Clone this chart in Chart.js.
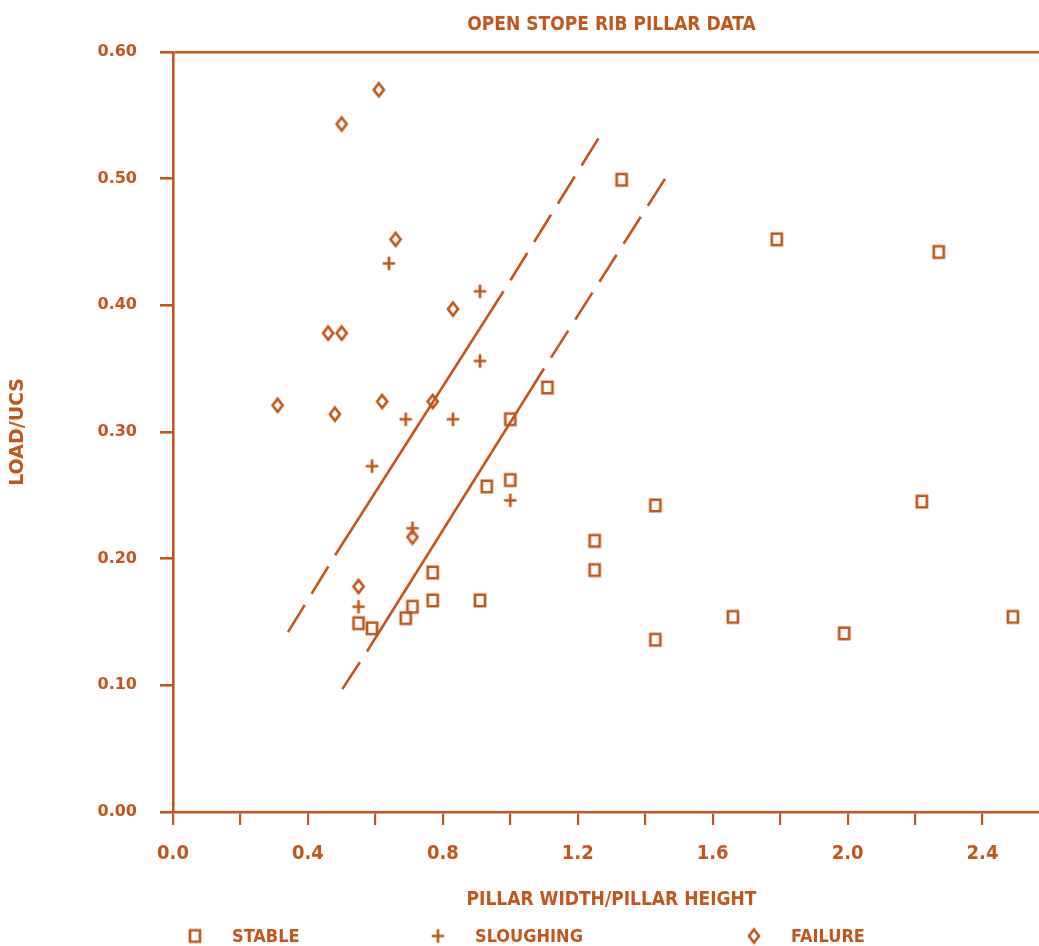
<!DOCTYPE html>
<html>
<head>
<meta charset="utf-8">
<title>Open stope rib pillar data</title>
<script src="https://cdn.jsdelivr.net/npm/chart.js@4.4.1/dist/chart.umd.min.js"></script>
<style>
  html, body { margin: 0; padding: 0; background: #fff; overflow: hidden; }
  #wrap { width: 1039px; height: 946px; overflow: hidden; }
</style>
</head>
<body>
<div id="wrap"><canvas id="chart" width="1067" height="946"></canvas></div>
<script>
const INK = '#c1571b';
const NARROW = "'Liberation Sans Narrow', 'DejaVu Sans Condensed', sans-serif";
const ROUND = "'DejaVu Sans', Verdana, sans-serif";

// pillar width/height ratio and load/UCS for each case
const stableRatio = [0.55, 0.59, 0.69, 0.71, 0.77, 0.77, 0.91, 0.93, 1.00, 1.00, 1.11,
                     1.25, 1.25, 1.33, 1.43, 1.43, 1.66, 1.79, 1.99, 2.22, 2.27, 2.49];
const stableLoad  = [0.149, 0.145, 0.153, 0.162, 0.189, 0.167, 0.167, 0.257, 0.262, 0.310, 0.335,
                     0.214, 0.191, 0.499, 0.242, 0.136, 0.154, 0.452, 0.141, 0.245, 0.442, 0.154];

const sloughRatio = [0.55, 0.59, 0.64, 0.69, 0.71, 0.83, 0.91, 0.91, 1.00];
const sloughLoad  = [0.162, 0.273, 0.433, 0.310, 0.224, 0.310, 0.411, 0.356, 0.246];

const failRatio = [0.31, 0.46, 0.48, 0.50, 0.50, 0.55, 0.61, 0.62, 0.66, 0.71, 0.77, 0.83];
const failLoad  = [0.321, 0.378, 0.314, 0.378, 0.543, 0.178, 0.570, 0.324, 0.452, 0.217, 0.324, 0.397];

// hand-drawn stability bounds: dashed end, solid middle, dashed end
const upperBoundRatio = [0.341, 0.484, 0.980, 1.262];
const upperBoundLoad  = [0.142, 0.204, 0.411, 0.532];
const lowerBoundRatio = [0.502, 0.583, 1.100, 1.476];
const lowerBoundLoad  = [0.097, 0.130, 0.350, 0.507];

const legendLabels = ['STABLE', 'SLOUGHING', 'FAILURE'];
const xTickStep = 0.2;

function toPoints(xs, ys) {
  return xs.map((x, i) => ({ x, y: ys[i] }));
}

// small stroked marker images, reused in the legend row
function marker(kind, w, h) {
  const lw = 2.7;
  const c = document.createElement('canvas');
  c.width = Math.ceil(w + lw * 2);
  c.height = Math.ceil(h + lw * 2);
  const g = c.getContext('2d');
  const cx = c.width / 2, cy = c.height / 2;
  g.strokeStyle = INK;
  g.lineWidth = lw;
  g.beginPath();
  if (kind === 'square') {
    g.rect(cx - w / 2, cy - h / 2, w, h);
  } else if (kind === 'plus') {
    g.moveTo(cx - w / 2, cy); g.lineTo(cx + w / 2, cy);
    g.moveTo(cx, cy - h / 2); g.lineTo(cx, cy + h / 2);
  } else {
    g.moveTo(cx, cy - h / 2); g.lineTo(cx + w / 2, cy);
    g.lineTo(cx, cy + h / 2); g.lineTo(cx - w / 2, cy);
    g.closePath();
  }
  g.stroke();
  return c;
}

const squareMark = marker('square', 10, 11.5);
const plusMark = marker('plus', 12.5, 13.5);
const diamondMark = marker('diamond', 10, 13);
const legendMarks = [squareMark, plusMark, diamondMark];

function boundLine(xs, ys) {
  return {
    data: toPoints(xs, ys),
    showLine: true,
    pointRadius: 0,
    borderColor: INK,
    borderWidth: 2.6,
    segment: {
      borderDash: ctx => ctx.p0DataIndex === 1 ? [] : [32, 13],
      borderDashOffset: ctx => ctx.p0DataIndex === 2 ? 32 : 0
    }
  };
}

function pointSet(xs, ys, mark) {
  return {
    data: toPoints(xs, ys),
    pointStyle: mark,
    pointRadius: 7,
    borderColor: INK,
    backgroundColor: 'transparent'
  };
}

// legend row along the bottom edge
const legendRow = {
  id: 'legendRow',
  afterDraw(chart) {
    const { ctx } = chart;
    const xs = [195, 438, 754];
    const y = 936;
    ctx.save();
    ctx.fillStyle = INK;
    ctx.font = 'bold 18px ' + NARROW;
    ctx.textBaseline = 'middle';
    legendLabels.forEach((label, i) => {
      const m = legendMarks[i];
      ctx.drawImage(m, xs[i] - m.width / 2, y - m.height / 2);
      ctx.fillText(label, xs[i] + 37, y + 1);
    });
    ctx.restore();
  }
};

new Chart(document.getElementById('chart'), {
  type: 'scatter',
  data: {
    datasets: [
      pointSet(stableRatio, stableLoad, squareMark),
      pointSet(sloughRatio, sloughLoad, plusMark),
      pointSet(failRatio, failLoad, diamondMark),
      boundLine(upperBoundRatio, upperBoundLoad),
      boundLine(lowerBoundRatio, lowerBoundLoad)
    ]
  },
  options: {
    responsive: false,
    animation: false,
    layout: { padding: 0 },
    plugins: {
      legend: { display: false },
      tooltip: { enabled: false },
      title: {
        display: true,
        text: 'OPEN STOPE RIB PILLAR DATA',
        color: INK,
        fullSize: false,
        font: { family: NARROW, size: 19, weight: 'bold' },
        padding: { top: 14, bottom: 15 }
      }
    },
    scales: {
      x: {
        min: 0,
        max: 2.6,
        afterFit: s => { s.height = 134; },
        border: { color: INK, width: 2.6 },
        grid: { drawOnChartArea: false, tickColor: INK, tickLength: 13, lineWidth: 2.2 },
        ticks: {
          stepSize: xTickStep,
          color: INK,
          padding: 17,
          maxRotation: 0,
          autoSkip: false,
          font: { family: NARROW, size: 20, weight: 'bold' },
          callback: (v, i) => i % 2 === 0 ? v.toFixed(1) : ''
        },
        title: {
          display: true,
          text: 'PILLAR WIDTH/PILLAR HEIGHT',
          color: INK,
          font: { family: NARROW, size: 19, weight: 'bold' },
          padding: { top: 0, bottom: 35 }
        }
      },
      y: {
        min: 0,
        max: 0.6,
        afterFit: s => { s.width = 173; },
        border: { color: INK, width: 2.6 },
        grid: {
          color: ctx => ctx.tick && ctx.tick.value === 0.6 ? INK : 'transparent',
          lineWidth: 2.6,
          tickColor: INK,
          tickLength: 13
        },
        ticks: {
          stepSize: 0.1,
          color: INK,
          padding: 23,
          font: { family: ROUND, size: 16, weight: 'bold' },
          callback: v => v.toFixed(2)
        },
        title: {
          display: true,
          text: 'LOAD/UCS',
          color: INK,
          font: { family: ROUND, size: 19, weight: 'bold' },
          padding: { top: 7, bottom: 0 }
        }
      }
    }
  },
  plugins: [legendRow]
});
</script>
</body>
</html>
